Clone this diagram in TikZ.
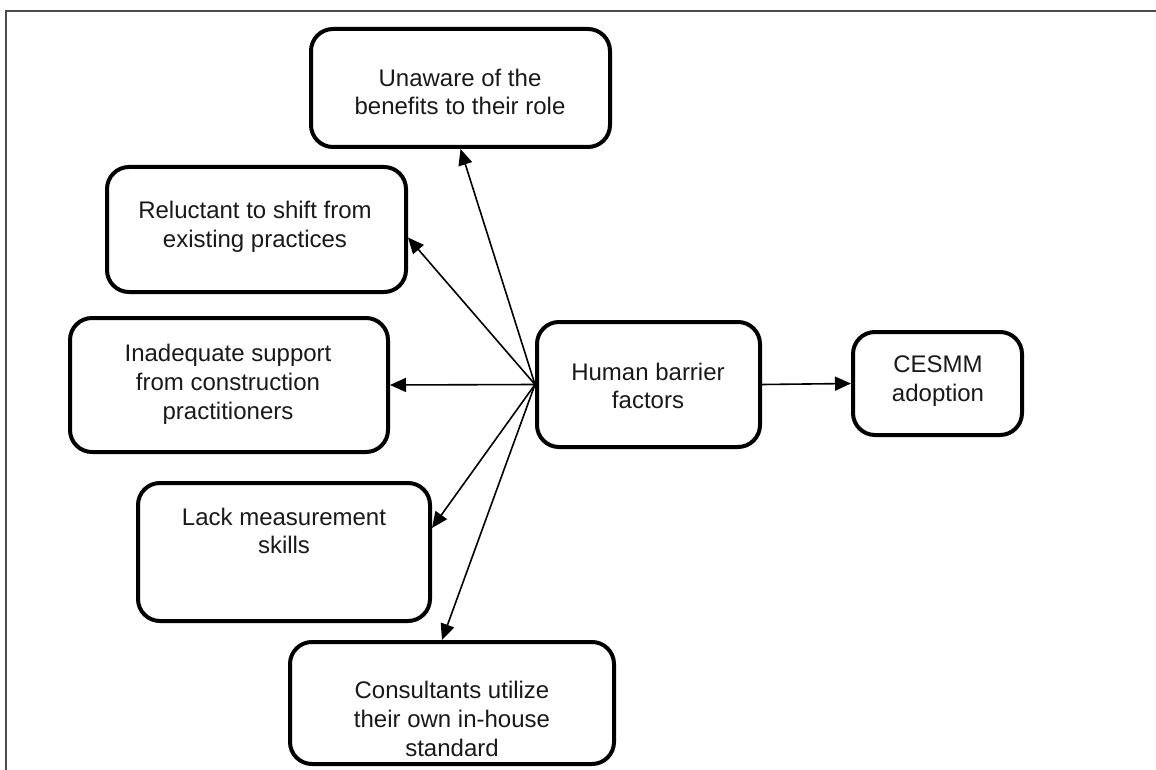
\documentclass[tikz,border=0pt]{standalone}
\usepackage{fontspec}
\setmainfont{Liberation Sans}
\usetikzlibrary{arrows.meta}
\begin{document}
\begin{tikzpicture}[x=0.5pt,y=-0.5pt,
  box/.style={draw=black, line width=2pt, rounded corners=11pt, inner sep=0pt},
  txt/.style={align=center, font=\fontsize{12pt}{14.4pt}\selectfont, inner sep=0pt, text=black!90},
  arr/.style={line width=0.8pt, -{Triangle[length=8pt,width=7pt]}},
  frameline/.style={line width=1pt, draw=black!70}]
\useasboundingbox (0,0) rectangle (1156,770);
\draw[frameline] (6,770) -- (6,11) -- (1156,11);

% boxes
\node[box, minimum width=149.5pt, minimum height=59pt]   (unaware) at (460.5,88) {};
\node[box, minimum width=149.5pt, minimum height=62.5pt] (reluct)  at (256.5,229.5) {};
\node[box, minimum width=159pt,   minimum height=67pt]   (inadeq)  at (229,385) {};
\node[box, minimum width=146pt,   minimum height=69pt]   (lack)    at (284,552) {};
\node[box, minimum width=162pt,   minimum height=61pt]   (consult) at (452,703) {};
\node[box, minimum width=111.5pt, minimum height=62.5pt] (human)   at (648.5,384.5) {};
\node[box, minimum width=84.5pt,  minimum height=51.5pt] (cesmm)   at (937.5,383.5) {};

% texts
\node[txt] (unaware-t) at (460,92)  {Unaware of the\\benefits to their role};
\node[txt] (reluct-t)  at (255,227) {Reluctant to shift from\\existing practices};
\node[txt] (inadeq-t)  at (228,384) {Inadequate support\\from construction\\practitioners};
\node[txt] (lack-t)    at (284,531) {Lack measurement\\skills};
\node[txt] (consult-t) at (452,719) {Consultants utilize\\their own in-house\\standard};
\node[txt] (human-t)   at (648,386) {Human barrier\\factors};
\node[txt] (cesmm-t)   at (938,381) {CESMM\\adoption};

% connectors
\draw[arr] (human.west) -- (unaware.south);
\draw[arr] (human.west) -- ([yshift=-4pt]reluct.east);
\draw[arr] (human.west) -- (inadeq.east);
\draw[arr] (human.west) -- ([yshift=12pt]lack.east);
\draw[arr] (human.west) -- ([xshift=-5pt]consult.north);
\draw[arr] (human.east) -- (cesmm.west);
\end{tikzpicture}
\end{document}
